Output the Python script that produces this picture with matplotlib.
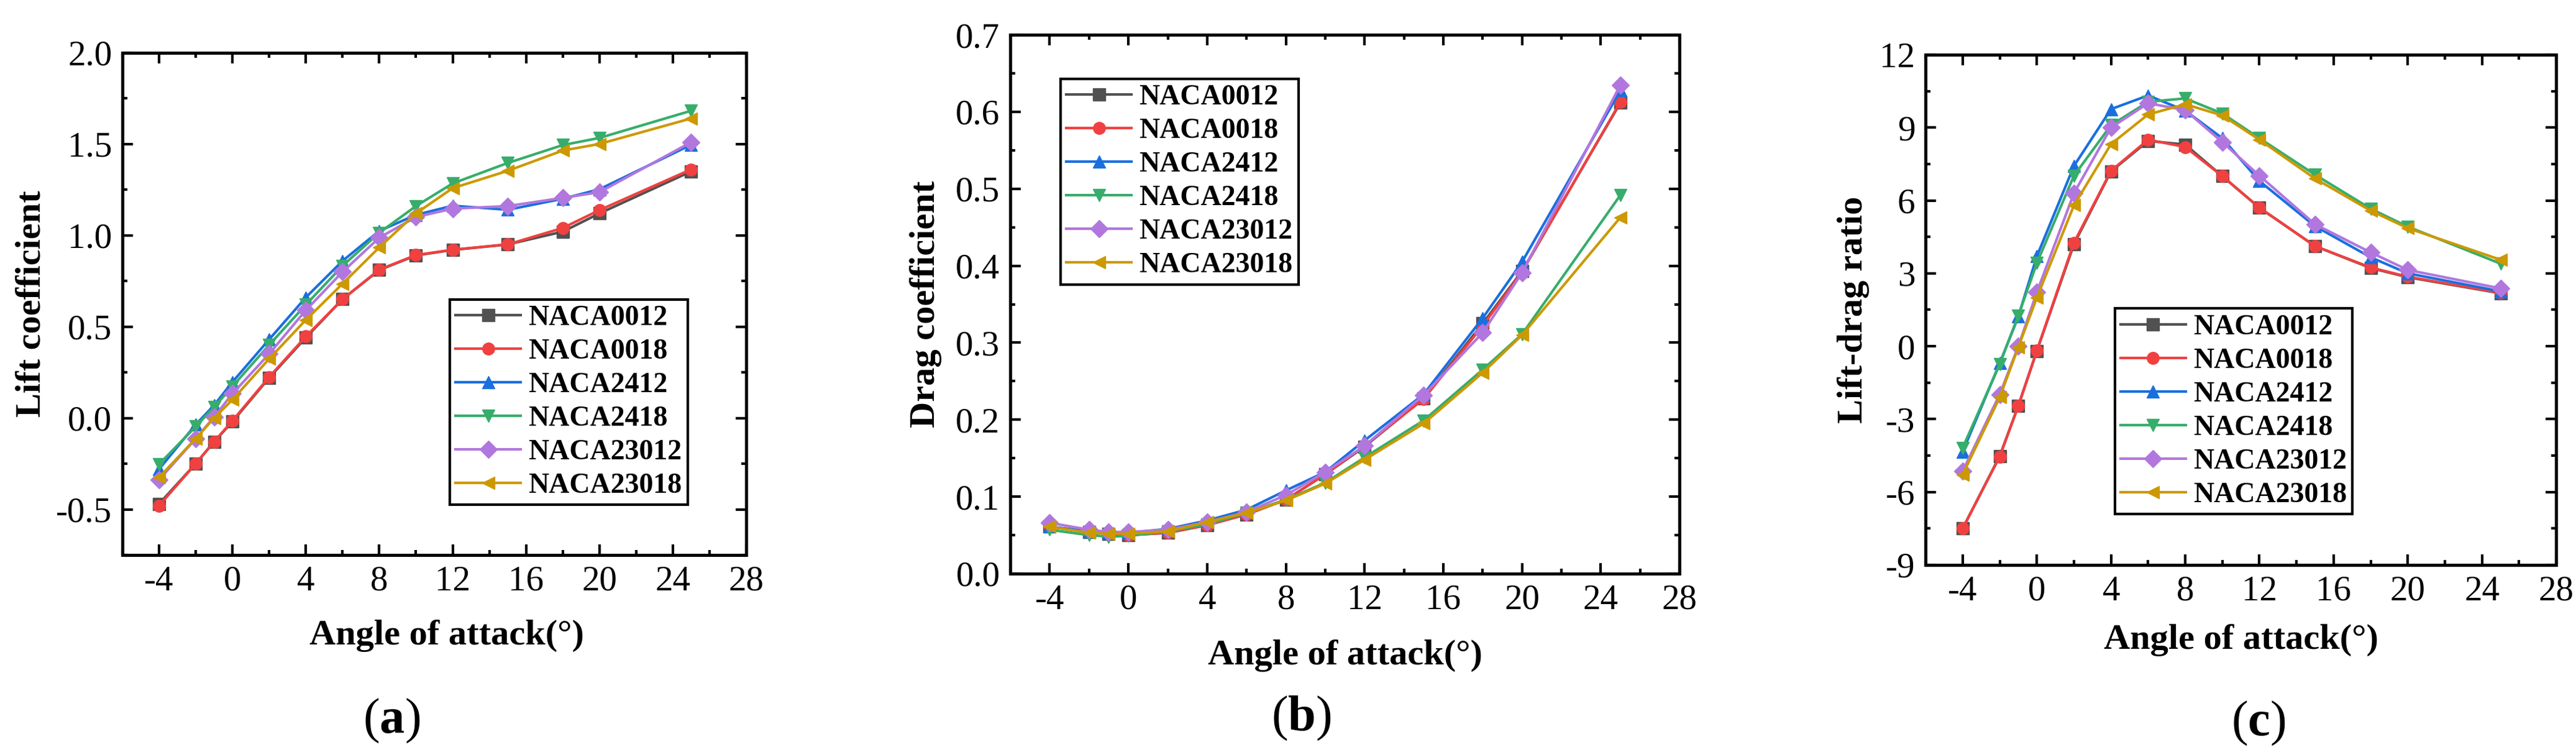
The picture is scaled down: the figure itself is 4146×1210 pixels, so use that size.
import matplotlib
matplotlib.use("Agg")
import matplotlib.pyplot as plt
from matplotlib.ticker import MultipleLocator, FormatStrFormatter

plt.rcParams['font.family'] = ['Liberation Serif', 'DejaVu Serif']
plt.rcParams['axes.unicode_minus'] = False
plt.rcParams['mathtext.fontset'] = 'custom'
plt.rcParams['mathtext.rm'] = 'Liberation Serif'
plt.rcParams['mathtext.bf'] = 'Liberation Serif:bold'

# angles of attack (deg)
angles = [-4, -2, -1, 0, 2, 4, 6, 8, 10, 12, 15, 18, 20, 25]

airfoils = ['NACA0012', 'NACA0018', 'NACA2412', 'NACA2418', 'NACA23012', 'NACA23018']
colors = ['#515151', '#F14040', '#1A6FDF', '#37AD6B', '#B177DE', '#CC9900']
markers = ['s', 'o', '^', 'v', 'D', '<']

# lift coefficient
cl_0012 = [-0.47, -0.25, -0.13, -0.02, 0.22, 0.44, 0.65, 0.81, 0.89, 0.92, 0.95, 1.02, 1.12, 1.35]
cl_0018 = [-0.48, -0.25, -0.13, -0.015, 0.224, 0.446, 0.65, 0.812, 0.892, 0.921, 0.95, 1.04, 1.138, 1.361]
cl_2412 = [-0.28, -0.036, 0.07, 0.197, 0.43, 0.66, 0.86, 1.024, 1.112, 1.162, 1.14, 1.20, 1.252, 1.496]
cl_2418 = [-0.253, -0.047, 0.06, 0.173, 0.40, 0.62, 0.833, 1.014, 1.16, 1.284, 1.396, 1.494, 1.533, 1.682]
cl_23012 = [-0.338, -0.113, 0.006, 0.133, 0.351, 0.59, 0.80, 0.987, 1.10, 1.146, 1.16, 1.205, 1.236, 1.51]
cl_23018 = [-0.325, -0.113, 0.0, 0.10, 0.324, 0.537, 0.735, 0.934, 1.12, 1.258, 1.353, 1.464, 1.50, 1.64]

# drag coefficient
cd_0012 = [0.061, 0.054, 0.052, 0.050, 0.053, 0.063, 0.077, 0.096, 0.129, 0.165, 0.228, 0.325, 0.393, 0.612]
cd_0018 = [0.061, 0.054, 0.052, 0.050, 0.053, 0.063, 0.077, 0.096, 0.129, 0.166, 0.227, 0.322, 0.392, 0.613]
cd_2412 = [0.061, 0.055, 0.053, 0.053, 0.058, 0.069, 0.083, 0.108, 0.132, 0.173, 0.233, 0.332, 0.405, 0.628]
cd_2418 = [0.057, 0.050, 0.048, 0.049, 0.055, 0.064, 0.079, 0.096, 0.118, 0.151, 0.199, 0.265, 0.311, 0.492]
cd_23012 = [0.066, 0.057, 0.054, 0.054, 0.057, 0.067, 0.080, 0.102, 0.132, 0.166, 0.232, 0.313, 0.391, 0.635]
cd_23018 = [0.061, 0.053, 0.052, 0.052, 0.055, 0.067, 0.079, 0.095, 0.117, 0.148, 0.195, 0.261, 0.310, 0.463]

# lift-drag ratio
ld_0012 = [-7.5, -4.52, -2.45, -0.2, 4.2, 7.2, 8.45, 8.3, 7.0, 5.7, 4.12, 3.22, 2.84, 2.18]
ld_0018 = [-7.5, -4.54, -2.46, -0.18, 4.26, 7.22, 8.5, 8.2, 7.0, 5.7, 4.12, 3.24, 2.86, 2.2]
ld_2412 = [-4.34, -0.7, 1.22, 3.7, 7.42, 9.76, 10.32, 9.7, 8.56, 6.8, 4.94, 3.66, 3.0, 2.26]
ld_2418 = [-4.18, -0.74, 1.26, 3.42, 7.02, 9.1, 10.06, 10.2, 9.58, 8.56, 7.06, 5.66, 4.92, 3.4]
ld_23012 = [-5.14, -1.98, 0.0, 2.22, 6.3, 9.0, 10.0, 9.72, 8.4, 7.02, 5.02, 3.86, 3.14, 2.38]
ld_23018 = [-5.28, -2.1, -0.04, 2.0, 5.8, 8.32, 9.54, 9.96, 9.5, 8.5, 6.9, 5.58, 4.86, 3.56]

lift = [cl_0012, cl_0018, cl_2412, cl_2418, cl_23012, cl_23018]
drag = [cd_0012, cd_0018, cd_2412, cd_2418, cd_23012, cd_23018]
ratio = [ld_0012, ld_0018, ld_2412, ld_2418, ld_23012, ld_23018]

fig = plt.figure(figsize=(41.46, 12.10), dpi=100)

ax_a = fig.add_axes([0.0475, 0.262, 0.2422, 0.668])
ax_b = fig.add_axes([0.3922, 0.2372, 0.2598, 0.7165])
ax_c = fig.add_axes([0.7475, 0.2488, 0.2448, 0.6785])


def style_axes(ax, ylim, ymajor, yfmt, ylabel, ylab_x, xlab_pos):
    ax.set_xlim(-6, 28)
    ax.set_ylim(*ylim)
    ax.xaxis.set_major_locator(MultipleLocator(4))
    ax.xaxis.set_minor_locator(MultipleLocator(2))
    ax.yaxis.set_major_locator(MultipleLocator(ymajor))
    ax.yaxis.set_minor_locator(MultipleLocator(ymajor / 2))
    ax.yaxis.set_major_formatter(FormatStrFormatter(yfmt))
    ax.tick_params(which='both', direction='in', top=True, right=True,
                   labelsize=41, width=3, pad=12)
    ax.tick_params(which='major', length=12)
    ax.tick_params(which='minor', length=6)
    for sp in ax.spines.values():
        sp.set_linewidth(3.6)
    ax.set_xlabel('Angle of attack(°)', fontsize=42, fontweight='bold')
    ax.set_ylabel(ylabel, fontsize=42, fontweight='bold')
    ax.xaxis.set_label_coords(*xlab_pos)
    ax.xaxis.label.set_va('center')
    ax.yaxis.set_label_coords(ylab_x, 0.5)
    ax.yaxis.label.set_va('center')


def draw_series(ax, data):
    for name, vals, c, m in zip(airfoils, data, colors, markers):
        ax.plot(angles, vals, color=c, marker=m, markersize=14, linewidth=3,
                label=name)


draw_series(ax_a, lift)
draw_series(ax_b, drag)
draw_series(ax_c, ratio)

style_axes(ax_a, (-0.75, 2.0), 0.5, '%.1f', 'Lift coefficient', -0.146, (0.52, -0.161))
style_axes(ax_b, (0.0, 0.7), 0.1, '%.1f', 'Drag coefficient', -0.126, (0.5, -0.152))
style_axes(ax_c, (-9, 12), 3, '%d', 'Lift-drag ratio', -0.114, (0.5, -0.147))

leg_kw = dict(prop={'weight': 'bold', 'size': 33}, frameon=True, fancybox=False,
              edgecolor='black', framealpha=1, borderaxespad=0, borderpad=0.2,
              labelspacing=0.26, handlelength=2.3, handletextpad=0.26)
for ax, loc, anchor in [(ax_a, 'lower right', (0.906, 0.10)),
                        (ax_b, 'upper left', (0.075, 0.918)),
                        (ax_c, 'lower left', (0.30, 0.10))]:
    leg = ax.legend(loc=loc, bbox_to_anchor=anchor, **leg_kw)
    leg.get_frame().set_linewidth(3)

# panel letters
for x, y, letter in [(630, 1160, 'a'), (2094, 1156, 'b'), (3635, 1164, 'c')]:
    fig.text(x / 4146, 1 - y / 1210, r'$\mathrm{(}\mathbf{%s}\mathrm{)}$' % letter,
             fontsize=58, ha='center', va='center')

fig.savefig('out.png', dpi=100)
